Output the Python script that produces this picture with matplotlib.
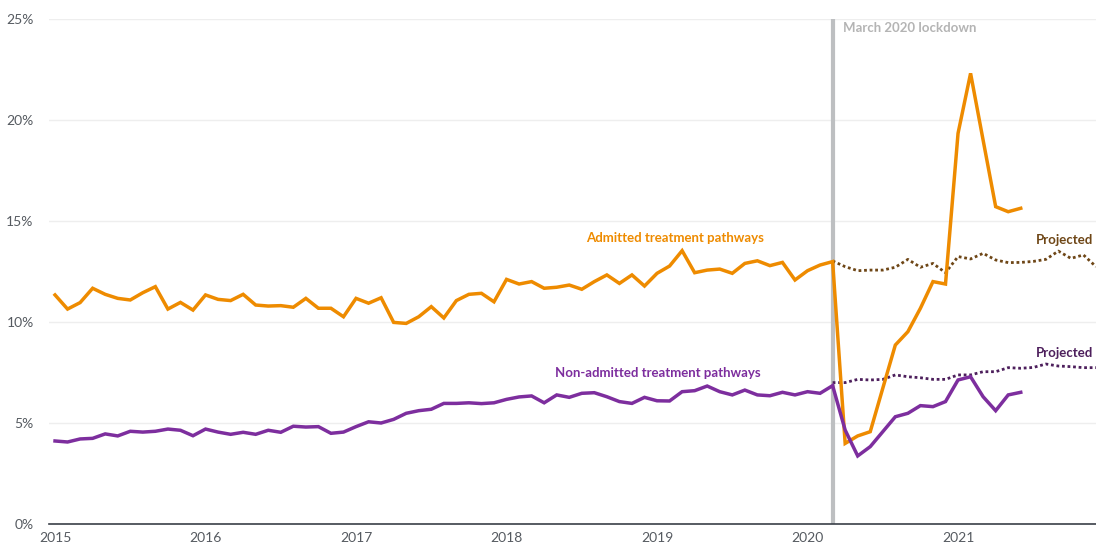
import numpy as np
import matplotlib
matplotlib.use("Agg")
import matplotlib.pyplot as plt

plt.rcParams['font.family'] = ['Lato', 'DejaVu Sans']

# monthly series, Jan 2015 = month 0
admitted = [11.34, 10.64, 10.96, 11.67, 11.37, 11.17, 11.09, 11.45, 11.75, 10.64,
            10.97, 10.59, 11.34, 11.12, 11.06, 11.37, 10.84, 10.79, 10.81, 10.73,
            11.17, 10.68, 10.68, 10.26, 11.17, 10.93, 11.20, 9.98, 9.93, 10.26,
            10.76, 10.20, 11.06, 11.37, 11.42, 11.00, 12.11, 11.88, 12.00, 11.67,
            11.72, 11.83, 11.62, 12.00, 12.33, 11.91, 12.33, 11.78, 12.41, 12.77,
            13.53, 12.44, 12.57, 12.62, 12.41, 12.90, 13.03, 12.79, 12.95, 12.08,
            12.54, 12.82, 12.99, 3.99, 4.36, 4.57, 6.72, 8.86, 9.52, 10.68,
            12.00, 11.88, 19.34, 22.31, 19.00, 15.71, 15.46, 15.63]
non_admitted = [4.11, 4.06, 4.21, 4.24, 4.46, 4.36, 4.59, 4.55, 4.59, 4.70,
                4.64, 4.37, 4.70, 4.55, 4.44, 4.54, 4.44, 4.64, 4.54, 4.84,
                4.80, 4.82, 4.49, 4.55, 4.82, 5.06, 5.00, 5.18, 5.48, 5.61,
                5.68, 5.97, 5.97, 6.00, 5.96, 6.00, 6.17, 6.29, 6.34, 6.00,
                6.39, 6.27, 6.47, 6.50, 6.30, 6.06, 5.97, 6.27, 6.10, 6.09,
                6.55, 6.60, 6.83, 6.55, 6.39, 6.63, 6.39, 6.35, 6.52, 6.39,
                6.55, 6.47, 6.85, 4.65, 3.37, 3.83, 4.57, 5.31, 5.48, 5.86,
                5.81, 6.06, 7.13, 7.29, 6.30, 5.61, 6.39, 6.52]
# projections start at March 2020 (month 62)
proj_start = 62
admitted_proj = [13.02, 12.74, 12.54, 12.57, 12.57, 12.71, 13.10, 12.71, 12.90, 12.44,
                 13.24, 13.12, 13.40, 13.07, 12.94, 12.95, 13.00, 13.10, 13.51, 13.15,
                 13.32, 12.74]
non_admitted_proj = [7.00, 7.00, 7.16, 7.13, 7.16, 7.38, 7.29, 7.24, 7.16, 7.16,
                     7.38, 7.38, 7.54, 7.54, 7.74, 7.71, 7.75, 7.92, 7.82, 7.79,
                     7.74, 7.74]
years = ['2015', '2016', '2017', '2018', '2019', '2020', '2021']
lockdown_month = 62

orange = '#EE8B00'
purple = '#7D2E9E'
brown = '#6E4616'
dpurple = '#4D1F5C'

fig = plt.figure(figsize=(10.96, 5.52), dpi=100)
ax = fig.add_axes([49/1096, 28/552, 1 - 49/1096, (524-19)/552])

x = np.arange(len(admitted))
xp = np.arange(proj_start, proj_start + len(admitted_proj))

ax.axvline(lockdown_month, color='#BDBFC1', lw=3, zorder=1)
ax.plot(xp, admitted_proj, color=brown, lw=2, ls=(0, (1, 1)), zorder=2)
ax.plot(xp, non_admitted_proj, color=dpurple, lw=2, ls=(0, (1, 1)), zorder=2)
ax.plot(x, admitted, color=orange, lw=2.5, zorder=3, solid_joinstyle='miter')
ax.plot(x, non_admitted, color=purple, lw=2.5, zorder=3, solid_joinstyle='miter')

ax.set_xlim(-0.48, 83.0)
ax.set_ylim(0, 25)
ax.set_yticks(range(0, 26, 5))
ax.set_yticklabels([f'{v}%' for v in range(0, 26, 5)])
ax.set_xticks(np.arange(len(years)) * 12)
ax.set_xticklabels(years)
ax.grid(axis='y', color='#EEEEEE', lw=1)
ax.set_axisbelow(True)
for s in ['top', 'right', 'left']:
    ax.spines[s].set_visible(False)
ax.spines['bottom'].set_color('#3A3F48')
ax.spines['bottom'].set_linewidth(1.2)
ax.tick_params(axis='both', length=0, labelsize=10, colors='#555A60')
ax.tick_params(axis='y', pad=11)
ax.tick_params(axis='x', pad=6)

ax.text(lockdown_month + 0.8, 24.55, 'March 2020 lockdown', color='#B4B4B4',
        fontsize=9.5, fontweight='bold', va='center', ha='left')
ax.text(49.4, 14.16, 'Admitted treatment pathways', color=orange,
        fontsize=9.5, fontweight='bold', ha='center', va='center')
ax.text(48.05, 7.48, 'Non-admitted treatment pathways', color=purple,
        fontsize=9.5, fontweight='bold', ha='center', va='center')
ax.text(82.8, 14.06, 'Projected', color=brown, fontsize=9.5,
        fontweight='bold', ha='right', va='center')
ax.text(82.8, 8.47, 'Projected', color=dpurple, fontsize=9.5,
        fontweight='bold', ha='right', va='center')

fig.savefig('out.png', dpi=100)
